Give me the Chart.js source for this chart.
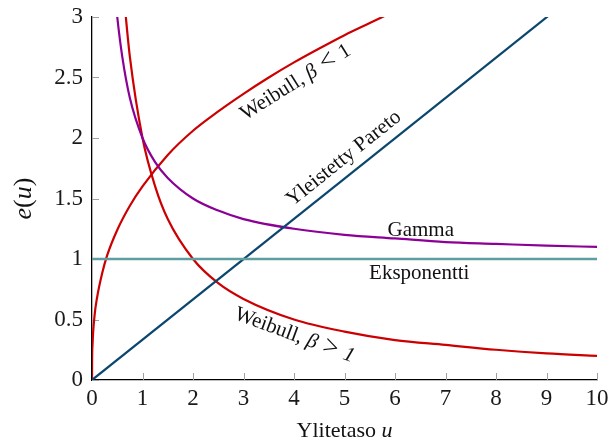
<!DOCTYPE html>
<html lang="fi">
<head>
    <meta charset="UTF-8">
    <title>Keskimääräinen ylitefunktio</title>
    <script src="https://cdn.jsdelivr.net/npm/chart.js"></script>
    <style>
        body {
            margin: 0;
            background: #ffffff;
        }

        .wrap {
            width: 611px;
            height: 441px;
            position: relative;
        }
    </style>
</head>
<body>
    <div class="wrap">
        <canvas id="chart"></canvas>
    </div>

    <script>
        // values
        const weibullLowX = [0, 0.002, 0.01, 0.05, 0.1, 0.2, 0.3, 0.5, 0.75, 1, 1.5, 2, 2.5, 3, 3.5, 4, 4.5, 5, 5.5, 6];
        const weibullLowY = [0, 0.16, 0.29, 0.53, 0.68, 0.88, 1.03, 1.24, 1.44, 1.6, 1.86, 2.06, 2.22, 2.365, 2.5, 2.625, 2.74, 2.85, 2.95, 3.05];

        const weibullHighX = [0.6, 0.67, 0.75, 1, 1.25, 1.5, 2, 2.5, 3, 4, 5, 6, 7, 8, 9, 10];
        const weibullHighY = [3.33, 3.0, 2.67, 2.0, 1.6, 1.33, 1.0, 0.8, 0.67, 0.5, 0.4, 0.33, 0.29, 0.25, 0.22, 0.2];

        const gammaX = [0.45, 0.5, 0.6, 0.75, 1, 1.25, 1.5, 2, 2.5, 3, 4, 5, 6, 7, 8, 9, 10];
        const gammaY = [3.22, 3.0, 2.67, 2.33, 2.0, 1.8, 1.67, 1.5, 1.4, 1.33, 1.25, 1.2, 1.17, 1.14, 1.125, 1.11, 1.1];

        const paretoX = [0, 10];
        const paretoY = [0, 3.33];

        const expX = [0, 10];
        const expY = [1, 1];

        const xTicks = [0, 1, 2, 3, 4, 5, 6, 7, 8, 9, 10];
        const yTicks = [0, 0.5, 1, 1.5, 2, 2.5, 3];

        const serif = "'Liberation Serif', 'DejaVu Serif', serif";

        function pts(xs, ys) {
            return xs.map((x, i) => ({ x: x, y: ys[i] }));
        }

        // curve labels: position in data units, angle in degrees
        // each part: [text, font style, size factor]
        const curveLabels = [
            { parts: [['Weibull, ', '', 1], ['β', 'italic ', 1], [' < ', '', 1.3], ['1', '', 1]], x: 4.02, y: 2.47, angle: -32 },
            { parts: [['Yleistetty Pareto', '', 1]], x: 4.97, y: 1.84, angle: -38.6 },
            { parts: [['Gamma', '', 1]], x: 6.51, y: 1.25, angle: 0 },
            { parts: [['Eksponentti', '', 1]], x: 6.48, y: 0.89, angle: 0 },
            { parts: [['Weibull, ', '', 1], ['β', 'italic ', 1], [' > ', '', 1.3], ['1', 'italic ', 1]], x: 4.02, y: 0.38, angle: 20.3 }
        ];

        function drawRich(ctx, parts, px, py, angle, size) {
            ctx.save();
            ctx.translate(px, py);
            ctx.rotate(angle * Math.PI / 180);
            ctx.textBaseline = 'alphabetic';
            ctx.textAlign = 'left';
            const fontOf = p => p[1] + Math.round(size * (p[2] || 1)) + 'px ' + serif;
            let total = 0;
            parts.forEach(p => {
                ctx.font = fontOf(p);
                total += ctx.measureText(p[0]).width;
            });
            let cx = -total / 2;
            const base = size * 0.33;
            parts.forEach(p => {
                ctx.font = fontOf(p);
                // bigger relation symbols sit a little lower so they centre on the x-height
                const dy = (p[2] && p[2] > 1) ? size * 0.04 : 0;
                ctx.fillText(p[0], cx, base + dy);
                cx += ctx.measureText(p[0]).width;
            });
            ctx.restore();
        }

        const decorations = {
            id: 'decorations',
            beforeDatasetsDraw(chart) {
                const { ctx, chartArea } = chart;
                const x = chart.scales.x, y = chart.scales.y;
                ctx.save();
                ctx.strokeStyle = '#a0a0a0';
                ctx.lineWidth = 1;
                xTicks.forEach(v => {
                    const px = Math.round(x.getPixelForValue(v)) + 0.5;
                    ctx.beginPath();
                    ctx.moveTo(px, chartArea.bottom);
                    ctx.lineTo(px, chartArea.bottom - 7);
                    ctx.stroke();
                });
                yTicks.forEach(v => {
                    const py = Math.round(y.getPixelForValue(v)) + 0.5;
                    ctx.beginPath();
                    ctx.moveTo(chartArea.left, py);
                    ctx.lineTo(chartArea.left + 7, py);
                    ctx.stroke();
                });
                ctx.restore();
            },
            afterDraw(chart) {
                const { ctx, chartArea } = chart;
                const x = chart.scales.x, y = chart.scales.y;
                ctx.save();
                ctx.fillStyle = '#111';
                curveLabels.forEach(l => {
                    drawRich(ctx, l.parts, x.getPixelForValue(l.x), y.getPixelForValue(l.y), l.angle, 21);
                });
                // axis titles
                drawRich(ctx, [['Ylitetaso ', '', 1], ['u', 'italic ', 1]], (chartArea.left + chartArea.right) / 2, 430, 0, 22);
                drawRich(ctx, [['e', 'italic ', 1], ['(', '', 1], ['u', 'italic ', 1], [')', '', 1]], 22, (chartArea.top + chartArea.bottom) / 2, -90, 26);
                ctx.restore();
            }
        };

        const ctx = document.getElementById('chart').getContext('2d');

        const line = (data, color, width) => ({
            data: data,
            borderColor: color,
            borderWidth: width || 2.2,
            pointRadius: 0,
            showLine: true,
            fill: false,
            cubicInterpolationMode: 'monotone'
        });

        const myChart = new Chart(ctx, {
            type: 'scatter',
            data: {
                datasets: [
                    line(pts(expX, expY), '#5f9ea0', 2.6),
                    line(pts(paretoX, paretoY), '#0a466e'),
                    line(pts(gammaX, gammaY), '#8c0096'),
                    line(pts(weibullHighX, weibullHighY), '#cc0000'),
                    line(pts(weibullLowX, weibullLowY), '#cc0000')
                ]
            },
            options: {
                responsive: true,
                maintainAspectRatio: false,
                animation: false,
                layout: { padding: { left: 0, right: 14, top: 17, bottom: 0 } },
                plugins: {
                    legend: { display: false },
                    tooltip: { enabled: false }
                },
                scales: {
                    x: {
                        type: 'linear',
                        min: 0,
                        max: 10,
                        afterFit: s => { s.height = 61; s.paddingLeft = 0; s.paddingRight = 0; },
                        afterBuildTicks: s => { s.ticks = xTicks.map(v => ({ value: v })); },
                        grid: { display: false, drawTicks: false },
                        border: { display: true, color: '#000', width: 1.3 },
                        ticks: {
                            color: '#1a1a1a',
                            padding: 5,
                            maxRotation: 0,
                            font: { family: serif, size: 23 },
                            callback: v => String(v)
                        }
                    },
                    y: {
                        type: 'linear',
                        min: 0,
                        max: 3,
                        afterFit: s => { s.width = 92; s.paddingTop = 0; s.paddingBottom = 0; },
                        afterBuildTicks: s => { s.ticks = yTicks.map(v => ({ value: v })); },
                        grid: { display: false, drawTicks: false },
                        border: { display: true, color: '#000', width: 1.3 },
                        ticks: {
                            color: '#1a1a1a',
                            padding: 9,
                            font: { family: serif, size: 23 },
                            callback: v => String(v)
                        }
                    }
                }
            },
            plugins: [decorations]
        });
    </script>
</body>
</html>
